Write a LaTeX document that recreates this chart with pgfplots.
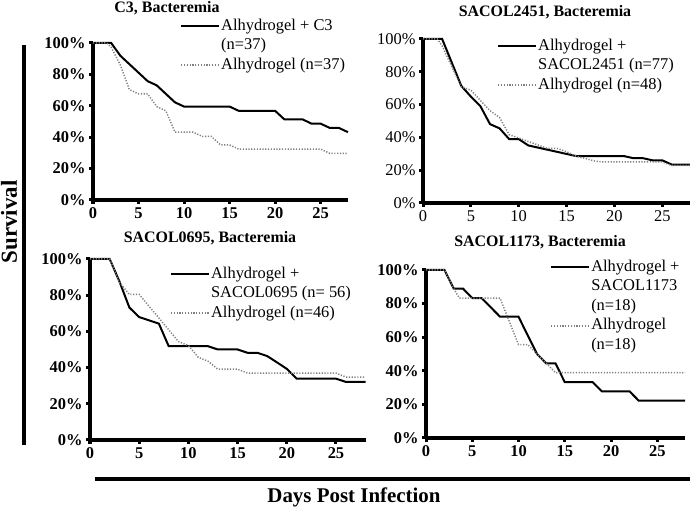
\documentclass[border=0pt]{standalone}
\usepackage{fontspec}
\setmainfont{Liberation Serif}
\usepackage{pgfplots}
\pgfplotsset{compat=1.18}

\pgfplotsset{
 km/.style={
   scale only axis, axis x line*=bottom, axis y line*=left,
   xmin=0, xmax=28, ymin=0, ymax=100,
   xtick={0,5,...,25}, ytick={0,20,...,100},
   /pgf/number format/assume math mode=true,
   yticklabel={\pgfmathprintnumber{\tick}\%},
   axis line style={line width=3.5bp},
   tick align=outside, major tick length=4bp,
   every tick/.style={black, line width=3bp},
   ticklabel style={font=\fontsize{16.5}{16.5}\selectfont\bfseries},
   clip=false,
   legend style={draw=none, fill=none, inner sep=0pt, anchor=north west,
     font=\fontsize{16.5}{16.5}\selectfont, cells={anchor=west}, row sep=1.5bp,
     nodes={inner sep=1bp, text height=12bp, text depth=4bp}},
   legend image code/.code={\draw[##1] (0bp,0bp) -- (38bp,0bp);},
 },
 solidkm/.style={black, line width=2bp},
 dotkm/.style={gray, line width=1.5bp, dash pattern=on 1.2bp off 1.6bp},
}

\begin{document}
\begin{tikzpicture}
\useasboundingbox (0bp,0bp) rectangle (690bp,511bp);

% Panel 1: C3
\begin{axis}[km, at={(93bp,311bp)}, anchor=south west, width=255bp, height=157bp,
  legend style={at={(0.341,1.166)}}]
\addplot[solidkm] coordinates {(0,100)(2,100)(3,91.9)(4,86.5)(5,81.1)(6,75.7)(7,73)(8,67.6)(9,62.2)(10,59.5)(15,59.5)(16,56.8)(20,56.8)(21,51.4)(23,51.4)(24,48.6)(25,48.6)(26,45.9)(27,45.9)(28,43.2)};
\addlegendentry{Alhydrogel + C3}
\addlegendimage{empty legend}
\addlegendentry{(n=37)}
\addplot[dotkm] coordinates {(0,100)(1.5,100)(2,97.3)(3,86)(4,70.3)(5,67.6)(6,67.6)(7,59.5)(8,56.8)(9,43.2)(10,43.2)(11,43.2)(12,40.5)(13,40.5)(14,35.1)(15,35.1)(16,32.4)(25,32.4)(26,29.7)(28,29.7)};
\addlegendentry{Alhydrogel (n=37)}
\end{axis}

% Panel 2: SACOL2451
\begin{axis}[km, at={(423bp,308bp)}, anchor=south west, width=268bp, height=164bp,
  ticklabel style={font=\fontsize{16.5}{16.5}\selectfont\mdseries},
  legend style={at={(0.276,1.012)}}]
\addplot[solidkm] coordinates {(0,100)(2,100)(3,85.7)(4,71.4)(5,64.9)(6,59)(7,48.1)(8,45.5)(9,39)(10,39)(11,35.1)(12,33.8)(13,32.5)(14,31.2)(15,29.9)(16,28.6)(21,28.6)(22,27.3)(23,27.3)(24,26)(25,26)(26,23.4)(28,23.4)};
\addlegendentry{Alhydrogel +}
\addlegendimage{empty legend}
\addlegendentry{SACOL2451 (n=77)}
\addplot[dotkm] coordinates {(0,100)(1.5,100)(2,95.8)(3,83.3)(4,70.8)(5,68.8)(6,62.5)(7,56.3)(8,52.1)(9,41.7)(10,39.6)(11,37.5)(12,35.4)(13,33.3)(14,33.3)(15,31.3)(16,28.5)(17,27.1)(18,25.5)(19,25)(25,25)(26,22.9)(28,22.9)};
\addlegendentry{Alhydrogel (n=48)}
\end{axis}

% Panel 3: SACOL0695
\begin{axis}[km, at={(90bp,71bp)}, anchor=south west, width=275.5bp, height=181bp,
  legend style={at={(0.29,0.967)}}]
\addplot[solidkm] coordinates {(0,100)(2,100)(3,87.5)(4,73.2)(5,67.9)(6,66.1)(7,64.3)(8,51.8)(12,51.8)(13,50)(15,50)(16,48.2)(17,48.2)(18,46.4)(19,42.9)(20,39.3)(21,33.9)(25,33.9)(26,32.1)(28,32.1)};
\addlegendentry{Alhydrogel +}
\addlegendimage{empty legend}
\addlegendentry{SACOL0695 (n= 56)}
\addplot[dotkm] coordinates {(0,100)(2,100)(3,87)(4,80.4)(5,80.4)(6,73.9)(7,67.4)(8,60.9)(9,54.3)(10,52.2)(11,45.7)(12,43.5)(13,39.1)(14,39.1)(15,39.1)(16,37)(25,37)(26,34.8)(28,34.8)};
\addlegendentry{Alhydrogel (n=46)}
\end{axis}

% Panel 4: SACOL1173
\begin{axis}[km, at={(426bp,73bp)}, anchor=south west, width=259bp, height=168bp,
  legend style={at={(0.479,1.071)}}]
\addplot[solidkm] coordinates {(0,100)(2,100)(3,88.9)(4,88.9)(5,83.3)(6,83.3)(7,77.8)(8,72.2)(10,72.2)(11,61.1)(12,50)(13,44.4)(14,44.4)(15,33.3)(18,33.3)(19,27.8)(22,27.8)(23,22.2)(28,22.2)};
\addlegendentry{Alhydrogel +}
\addlegendimage{empty legend}
\addlegendentry{SACOL1173}
\addlegendimage{empty legend}
\addlegendentry{(n=18)}
\addplot[dotkm] coordinates {(0,100)(2,100)(3,88.9)(3.6,83.3)(8,83.3)(10,55.6)(11,55.6)(12,50)(13,44.4)(14,38.9)(28,38.9)};
\addlegendentry{Alhydrogel}
\addlegendimage{empty legend}
\addlegendentry{(n=18)}
\end{axis}

% Titles
\node[font=\fontsize{16}{16}\selectfont\bfseries] at (167bp,503bp) {C3, Bacteremia};
\node[font=\fontsize{16}{16}\selectfont\bfseries] at (545bp,499bp) {SACOL2451, Bacteremia};
\node[font=\fontsize{16}{16}\selectfont\bfseries] at (210bp,273bp) {SACOL0695, Bacteremia};
\node[font=\fontsize{16}{16}\selectfont\bfseries] at (540bp,269bp) {SACOL1173, Bacteremia};

% Shared axis labels
\draw[line width=3.5bp] (24bp,466bp) -- (24bp,66bp);
\node[rotate=90, font=\fontsize{23}{23}\selectfont\bfseries] at (9bp,289bp) {Survival};
\draw[line width=4bp] (95bp,32bp) -- (690bp,32bp);
\node[font=\fontsize{21}{21}\selectfont\bfseries] at (354bp,14bp) {Days Post Infection};
\end{tikzpicture}
\end{document}
